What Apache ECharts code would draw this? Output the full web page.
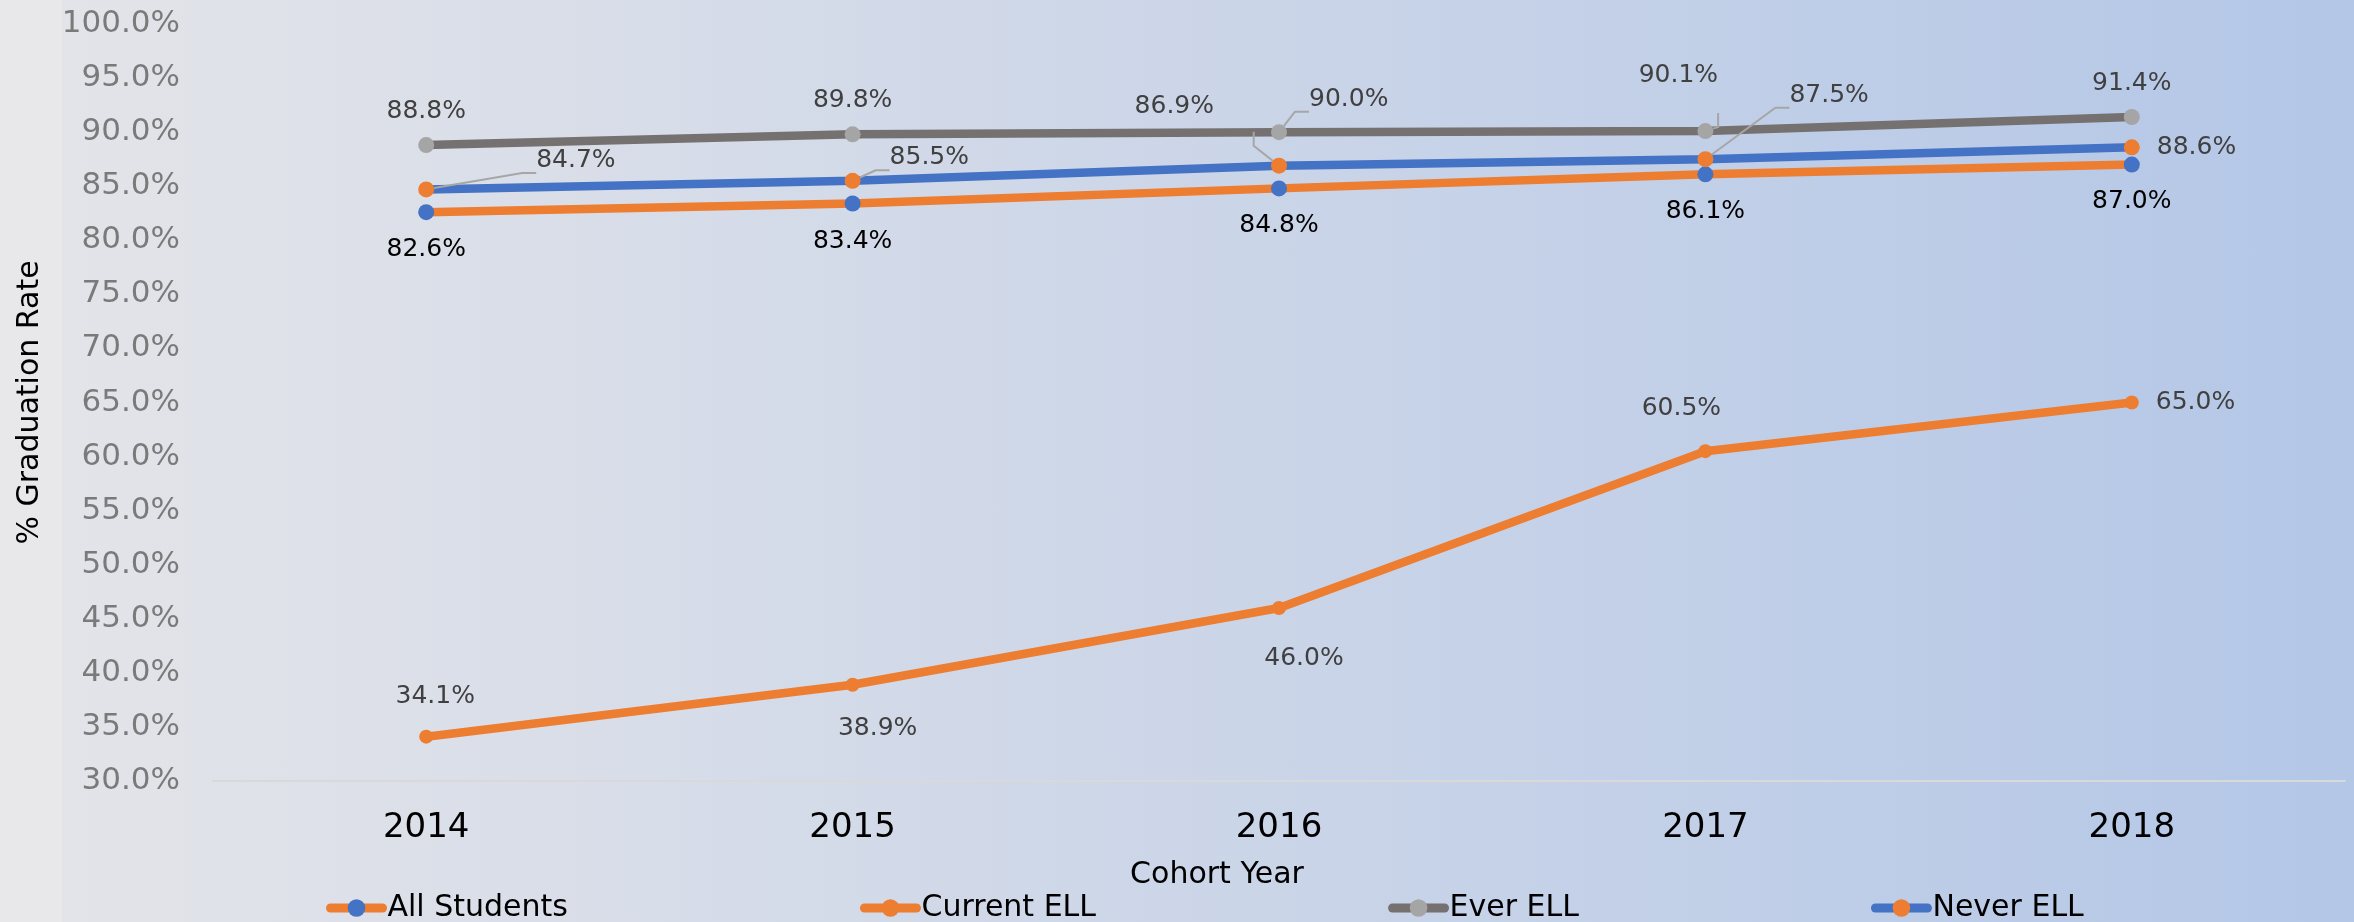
<!DOCTYPE html>
<html><head><meta charset="utf-8">
<script src="https://cdn.jsdelivr.net/npm/echarts@6/dist/echarts.min.js"></script>
<style>
html,body{margin:0;padding:0;}
#c{width:2354px;height:922px;background:linear-gradient(to right,#E8E8EA 0px,#E8E8EA 62px,#E3E4E9 62px,#B4C7E7 100%);}
</style></head><body><div id="c"></div>
<script>
const categories = ['2014', '2015', '2016', '2017', '2018'];
const seriesNames = ['All Students', 'Current ELL', 'Ever ELL', 'Never ELL'];
const allStudents = [82.6, 83.4, 84.8, 86.1, 87.0];
const currentELL = [34.1, 38.9, 46.0, 60.5, 65.0];
const everELL = [88.8, 89.8, 90.0, 90.1, 91.4];
const neverELL = [84.7, 85.5, 86.9, 87.5, 88.6];
const yMin = 30, yMax = 100, yStep = 5;

const FONT = 'DejaVu Sans';
// label placement per point: [position, distance, offsetX, offsetY, leader]
const place = {
  all: [['bottom',17,0,0,0],['bottom',17,0,0,0],['bottom',17,0,0,0],['bottom',17,0,0,0],['bottom',16,0,0,0]],
  cur: [['top',21,9,0,0],['bottom',24,25,0,0],['bottom',31,25,0,0],['top',23,-24,0,0],['right',17,0,0,0]],
  ever: [['top',13,0,0,0],['top',13,0,0,0],['right',22,0,-33,1],['top',35,-27,0,1],['top',13,0,0,0]],
  never: [['right',102,0,-29,1],['right',29,0,-23,1],['left',57,0,-59,1],['right',76,0,-64,1],['right',17,0,0,0]]
};
function build(values, pl) {
  return values.map((v, i) => {
    const p = pl[i];
    return {
      value: v,
      label: { position: p[0], distance: p[1], offset: [p[2], p[3]] },
      labelLine: { show: !!p[4] }
    };
  });
}
function mk(name, values, pl, lineColor, markerColor, labelColor, size) {
  return {
    name: name, type: 'line', data: build(values, pl),
    symbol: 'circle', symbolSize: size,
    lineStyle: { color: lineColor, width: 8.5 },
    itemStyle: { color: markerColor },
    label: { show: true, color: labelColor, fontFamily: FONT, fontSize: 25,
      formatter: p => p.value.toFixed(1) + '%' },
    labelLine: { lineStyle: { color: '#A6A6A6', width: 2 }, smooth: false, length2: 14 },
    emphasis: { disabled: true },
    animation: false
  };
}
const chart = echarts.init(document.getElementById('c'), null, { renderer: 'canvas' });
chart.setOption({
  backgroundColor: 'transparent',
  animation: false,
  grid: { left: 213, right: 9, top: 24, bottom: 141, containLabel: false },
  legend: {
    left: 321, top: 888, itemGap: 292, itemWidth: 52, itemHeight: 22,
    lineStyle: { width: 9, cap: 'round' },
    textStyle: { fontFamily: FONT, fontSize: 30, color: '#000' },
    data: seriesNames
  },
  xAxis: {
    type: 'category', data: categories, boundaryGap: true,
    name: 'Cohort Year', nameLocation: 'middle', nameGap: 79,
    nameTextStyle: { fontFamily: FONT, fontSize: 30, color: '#000', padding: [0, 124, 0, 0] },
    axisLine: { lineStyle: { color: '#D9D9D9', width: 2 } },
    axisTick: { show: false },
    axisLabel: { margin: 30, fontFamily: FONT, fontSize: 34, color: '#000' }
  },
  yAxis: {
    type: 'value', min: yMin, max: yMax, interval: yStep,
    name: '% Graduation Rate', nameLocation: 'middle', nameGap: 168, nameRotate: 90,
    nameTextStyle: { fontFamily: FONT, fontSize: 30, color: '#000' },
    axisLine: { show: false }, axisTick: { show: false }, splitLine: { show: false },
    axisLabel: { margin: 33, fontFamily: FONT, fontSize: 31, color: '#7A7A7A',
      formatter: v => v.toFixed(1) + '%' }
  },
  series: [
    mk(seriesNames[0], allStudents, place.all, '#ED7D31', '#4472C4', '#000000', 16),
    mk(seriesNames[1], currentELL, place.cur, '#ED7D31', '#ED7D31', '#404040', 14),
    mk(seriesNames[2], everELL, place.ever, '#767171', '#A5A5A5', '#404040', 16),
    mk(seriesNames[3], neverELL, place.never, '#4472C4', '#ED7D31', '#404040', 16)
  ]
});
</script></body></html>
